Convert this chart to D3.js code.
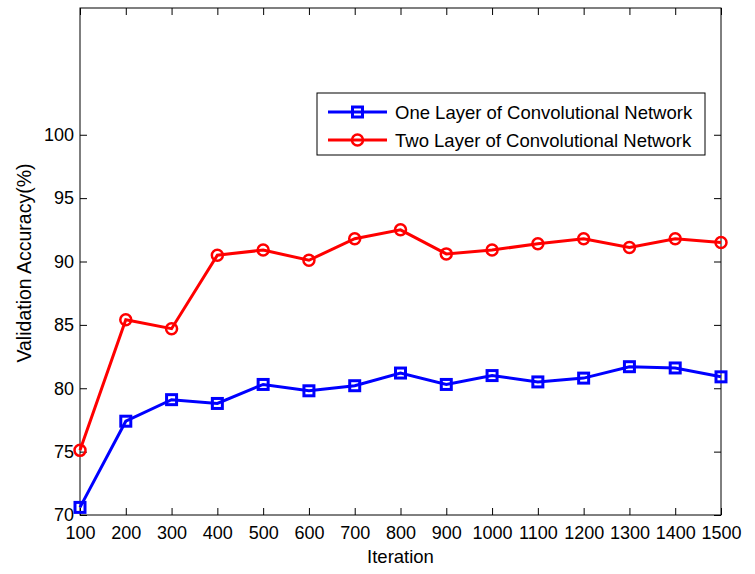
<!DOCTYPE html>
<html><head><meta charset="utf-8">
<script src="https://cdn.jsdelivr.net/npm/d3@7"></script>
<style>body{margin:0;background:#fff}text{font-family:"Liberation Sans",Arial,sans-serif}</style>
</head><body><svg id="c" width="755" height="574"></svg>
<script>
const iterations = [100,200,300,400,500,600,700,800,900,1000,1100,1200,1300,1400,1500];
const oneLayer = [70.6,77.4,79.1,78.8,80.3,79.8,80.2,81.2,80.3,81.0,80.5,80.8,81.7,81.6,80.9];
const twoLayer = [75.1,85.4,84.7,90.5,90.9,90.1,91.8,92.5,90.6,90.9,91.4,91.8,91.1,91.8,91.5];
const yTicks = [70,75,80,85,90,95,100];
const seriesNames = ["One Layer of Convolutional Network","Two Layer of Convolutional Network"];

const svg = d3.select("#c");
const L=80,R=721,T=8,B=515;
const x = d3.scaleLinear().domain([100,1500]).range([L,R]);
const y = d3.scaleLinear().domain([70,110]).range([B,T]);

svg.append("rect").attr("x",L).attr("y",T).attr("width",R-L).attr("height",B-T)
  .attr("fill","none").attr("stroke","#000").attr("stroke-width",1);

const fs=18;
const gx = svg.append("g").attr("transform",`translate(0,${B})`)
  .call(d3.axisBottom(x).tickValues(iterations).tickSize(-7).tickPadding(11).tickFormat(d3.format("d")));
const gxt = svg.append("g").attr("transform",`translate(0,${T})`)
  .call(d3.axisTop(x).tickValues(iterations).tickSize(-7).tickFormat(""));
const gy = svg.append("g").attr("transform",`translate(${L},0)`)
  .call(d3.axisLeft(y).tickValues(yTicks).tickSize(-7).tickPadding(6));
const gyr = svg.append("g").attr("transform",`translate(${R},0)`)
  .call(d3.axisRight(y).tickValues(yTicks).tickSize(-7).tickFormat(""));
[gx,gxt,gy,gyr].forEach(g=>{
  g.select(".domain").remove();
  g.selectAll("line").attr("stroke","#000");
  g.selectAll("text").attr("fill","#000").style("font-size",fs+"px").style("font-family","Liberation Sans, Arial, sans-serif");
});

svg.append("text").attr("x",(L+R)/2).attr("y",563).attr("text-anchor","middle")
  .style("font-size","18.5px").text("Iteration");
svg.append("text").attr("transform","translate(31,263) rotate(-90)").attr("text-anchor","middle")
  .style("font-size","19.5px").text("Validation Accuracy(%)");

const line = d3.line().x((d,i)=>x(iterations[i])).y(d=>y(d));
const blue="#0000ff", red="#ff0000";

svg.append("path").datum(oneLayer).attr("d",line).attr("fill","none").attr("stroke",blue).attr("stroke-width",3);
svg.append("path").datum(twoLayer).attr("d",line).attr("fill","none").attr("stroke",red).attr("stroke-width",3);

const sq=10;
svg.selectAll(".sq").data(oneLayer).enter().append("rect")
  .attr("x",(d,i)=>x(iterations[i])-sq/2).attr("y",d=>y(d)-sq/2).attr("width",sq).attr("height",sq)
  .attr("fill","none").attr("stroke",blue).attr("stroke-width",3);
svg.selectAll(".ci").data(twoLayer).enter().append("circle")
  .attr("cx",(d,i)=>x(iterations[i])).attr("cy",d=>y(d)).attr("r",5.5)
  .attr("fill","none").attr("stroke",red).attr("stroke-width",2.5);

const lg = svg.append("g");
lg.append("rect").attr("x",317).attr("y",93).attr("width",388).attr("height",62)
  .attr("fill","#fff").attr("stroke","#000").attr("stroke-width",1);
const rows=[112,140];
[blue,red].forEach((c,i)=>{
  lg.append("line").attr("x1",328).attr("x2",387).attr("y1",rows[i]).attr("y2",rows[i]).attr("stroke",c).attr("stroke-width",3);
  if(i===0) lg.append("rect").attr("x",357.5-5).attr("y",rows[i]-5).attr("width",10).attr("height",10).attr("fill","none").attr("stroke",c).attr("stroke-width",3);
  else lg.append("circle").attr("cx",357.5).attr("cy",rows[i]).attr("r",5.5).attr("fill","none").attr("stroke",c).attr("stroke-width",2.5);
  lg.append("text").attr("x",395).attr("y",rows[i]+6.5).style("font-size","18.5px").text(seriesNames[i]);
});
</script></body></html>
